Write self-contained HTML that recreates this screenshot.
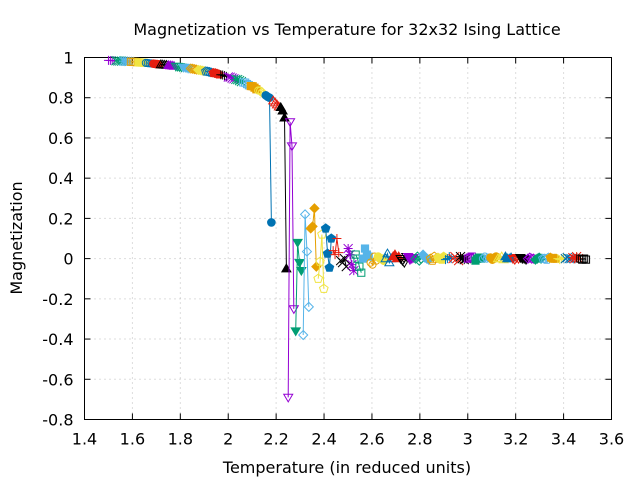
<!DOCTYPE html>
<html><head><meta charset="utf-8"><style>
body{margin:0;background:#fff;}
svg{display:block;font-family:"DejaVu Sans","Liberation Sans",sans-serif;}
</style></head><body>
<svg id="chart" width="640" height="480" viewBox="0 0 640 480">
<rect width="640" height="480" fill="#fff"/>
<g id="grid"></g>
<g id="axes"></g>
<g id="series"></g>
<text x="347" y="35" font-size="16" text-anchor="middle">Magnetization vs Temperature for 32x32 Ising Lattice</text>
<text x="347" y="473" font-size="16" text-anchor="middle">Temperature (in reduced units)</text>
<text x="22" y="238" font-size="16" text-anchor="middle" transform="rotate(-90 22 238)">Magnetization</text>
</svg>
<script>
const xTicks=[1.4,1.6,1.8,2,2.2,2.4,2.6,2.8,3,3.2,3.4,3.6];
const xTickLabels=["1.4","1.6","1.8","2","2.2","2.4","2.6","2.8","3","3.2","3.4","3.6"];
const yTicks=[-0.8,-0.6,-0.4,-0.2,0,0.2,0.4,0.6,0.8,1];
const yTickLabels=["-0.8","-0.6","-0.4","-0.2","0","0.2","0.4","0.6","0.8","1"];
const tStart=1.5, tEnd=3.47;
const seriesValues=[
[0.986,0.985,0.985,0.984],[0.984,0.983,0.983,0.982],[0.982,0.981,0.981,0.980],[0.979,0.978,0.978,0.977],
[0.976,0.975,0.975,0.974],[0.973,0.972,0.971,0.970],[0.969,0.968,0.967,0.966],[0.965,0.964,0.963,0.962],
[0.961,0.960,0.959,0.957],[0.956,0.955,0.954,0.952],[0.951,0.950,0.948,0.946],[0.945,0.944,0.942,0.940],
[0.938,0.937,0.935,0.933],[0.931,0.930,0.928,0.925],[0.923,0.922,0.919,0.916],[0.914,0.913,0.910,0.906],
[0.903,0.902,0.898,0.894],[0.891,0.890,0.885,0.880],[0.876,0.875,0.868,0.862],[0.858,0.857,0.850,0.842],
[0.836,0.835,0.826,0.818],[0.812,0.805,0.800,0.18],[0.785,0.775,0.765,0.755],[0.752,0.735,0.70,-0.05],
[-0.69,0.68,0.56,-0.25],[-0.36,0.08,-0.02,-0.06],[-0.38,0.22,0.035,-0.24],[0.15,0.16,0.25,-0.04],
[-0.10,-0.015,0.12,-0.15],[0.15,0.025,-0.045,0.10],[0.04,0.02,0.10,0.03],[-0.01,-0.02,0.0,-0.04],
[0.05,0.02,-0.03,-0.06],[0.02,0.0,-0.04,-0.07],[0.0,0.05,0.02,0.01],[-0.02,-0.03,0.01,-0.01],
[0.01,0.0,0.0,-0.01],[0.0,0.025,-0.02,0.0],[0.01,0.02,0.0,0.01],[0.0,-0.01,-0.02,0.01],
[0.01,-0.005,0.0,0.005],[0.0,0.01,-0.01,0.0],[0.02,0.005,0.0,-0.005],[0.0,-0.01,0.01,0.0],
[0.005,0.0,-0.005,0.01],[-0.005,0.0,0.01,0.0],[0.0,0.01,0.0,-0.01],[0.01,0.0,-0.005,0.0],
[0.0,0.005,0.01,0.0],[-0.01,0.0,0.005,0.0],[0.0,0.01,0.0,0.005],[0.005,-0.005,0.0,0.01],
[0.0,0.0,0.01,-0.005],[0.01,0.0,0.0,0.005],[0.0,-0.005,0.005,0.0],[0.005,0.0,0.0,-0.005],
[0.0,0.005,0.0,0.0],[-0.005,0.0,0.005,0.0],[0.0,0.0,-0.005,0.005],[0.005,0.0,0.0,0.0],
[0.0,-0.005,0.0,0.005],[0.0,0.005,0.0,0.0],[0.005,0.0,0.01,0.0],[0.0,-0.005,0.0,-0.005]
];
const colors=["#9400d3","#009e73","#56b4e9","#e69f00","#f0e442","#0072b2","#e51e10","#000000"];
const L=84.5,R=611.5,T=57.5,B=419.5,xMin=1.4,xMax=3.6,yMin=-0.8,yMax=1;
const xs=v=>L+(v-xMin)/(xMax-xMin)*(R-L);
const ys=v=>B-(v-yMin)/(yMax-yMin)*(B-T);
const NS="http://www.w3.org/2000/svg";
function mk(tag,attrs,parent){const e=document.createElementNS(NS,tag);for(const k in attrs)e.setAttribute(k,attrs[k]);parent.appendChild(e);return e;}
const grid=document.getElementById('grid'),axes=document.getElementById('axes'),ser=document.getElementById('series');
xTicks.forEach((t,i)=>{const x=xs(t);
 if(i>0&&i<xTicks.length-1){const g=mk('line',{x1:x,x2:x,y1:T,y2:B,stroke:'#bbb','stroke-width':1,'stroke-dasharray':'1,4'},grid);
 
 }
 mk('line',{x1:x,x2:x,y1:B,y2:B-6,stroke:'#000'},axes);mk('line',{x1:x,x2:x,y1:T,y2:T+6,stroke:'#000'},axes);
 const tx=mk('text',{x:x,y:B+25,'font-size':16,'text-anchor':'middle'},axes);tx.textContent=xTickLabels[i];
 
 });
yTicks.forEach((t,i)=>{const y=ys(t);
 if(i>0&&i<yTicks.length-1){const g=mk('line',{x1:L,x2:R,y1:y,y2:y,stroke:'#bbb','stroke-width':1,'stroke-dasharray':'1,4'},grid);
 
 }
 mk('line',{x1:L,x2:L+6,y1:y,y2:y,stroke:'#000'},axes);mk('line',{x1:R,x2:R-6,y1:y,y2:y,stroke:'#000'},axes);
 const tx=mk('text',{x:L-11,y:y+6,'font-size':16,'text-anchor':'end'},axes);tx.textContent=yTickLabels[i];
 
 });
const box=mk('rect',{x:L,y:T,width:R-L,height:B-T,fill:'none',stroke:'#000'},axes);


function marker(pt,x,y,c,g){const s=4.5;let d;
 const open={fill:'none',stroke:c,'stroke-width':1},fill={fill:c,stroke:c,'stroke-width':1};
 switch(pt){
 case 1:return mk('path',{d:`M${x-s} ${y}H${x+s}M${x} ${y-s}V${y+s}`,stroke:c,fill:'none'},g);
 case 2:return mk('path',{d:`M${x-s} ${y-s}L${x+s} ${y+s}M${x-s} ${y+s}L${x+s} ${y-s}`,stroke:c,fill:'none'},g);
 case 3:return mk('path',{d:`M${x-s} ${y}H${x+s}M${x} ${y-s}V${y+s}M${x-s} ${y-s}L${x+s} ${y+s}M${x-s} ${y+s}L${x+s} ${y-s}`,stroke:c,fill:'none'},g);
 case 4:return mk('rect',Object.assign({x:x-s*0.8,y:y-s*0.8,width:s*1.6,height:s*1.6},open),g);
 case 5:return mk('rect',Object.assign({x:x-s*0.8,y:y-s*0.8,width:s*1.6,height:s*1.6},fill),g);
 case 6:return mk('circle',Object.assign({cx:x,cy:y,r:s*0.8},open),g);
 case 7:return mk('circle',Object.assign({cx:x,cy:y,r:s*0.85},fill),g);
 case 8:d=`M${x} ${y-s}L${x+s} ${y+s*0.7}L${x-s} ${y+s*0.7}Z`;return mk('path',Object.assign({d},open),g);
 case 9:d=`M${x} ${y-s}L${x+s} ${y+s*0.7}L${x-s} ${y+s*0.7}Z`;return mk('path',Object.assign({d},fill),g);
 case 10:d=`M${x} ${y+s}L${x+s} ${y-s*0.7}L${x-s} ${y-s*0.7}Z`;return mk('path',Object.assign({d},open),g);
 case 11:d=`M${x} ${y+s}L${x+s} ${y-s*0.7}L${x-s} ${y-s*0.7}Z`;return mk('path',Object.assign({d},fill),g);
 case 12:d=`M${x} ${y-s}L${x+s} ${y}L${x} ${y+s}L${x-s} ${y}Z`;return mk('path',Object.assign({d},open),g);
 case 13:d=`M${x} ${y-s}L${x+s} ${y}L${x} ${y+s}L${x-s} ${y}Z`;return mk('path',Object.assign({d},fill),g);
 default:{let p=[];for(let k=0;k<5;k++){const a=-Math.PI/2+k*2*Math.PI/5;p.push((x+s*Math.cos(a)).toFixed(1)+','+(y+s*Math.sin(a)).toFixed(1));}
  return mk('polygon',Object.assign({points:p.join(' ')},pt===14?open:fill),g);}
 }}
const n=seriesValues.length, step=(tEnd-tStart)/(n-1);
seriesValues.forEach((vals,k)=>{
 const c=colors[k%8], pt=(k%15)+1, t0=tStart+k*step;
 const g=mk('g',{},ser);
 
 
 const pts=vals.map((v,j)=>[xs(t0+j*step/4),ys(v)]);
 const pl=mk('polyline',{points:pts.map(p=>p[0].toFixed(1)+','+p[1].toFixed(1)).join(' '),fill:'none',stroke:c,'stroke-width':1},g);
 
 
 pts.forEach(p=>{const m=marker(pt,p[0],p[1],c,g);
  
  });
});
</script>
</body></html>
